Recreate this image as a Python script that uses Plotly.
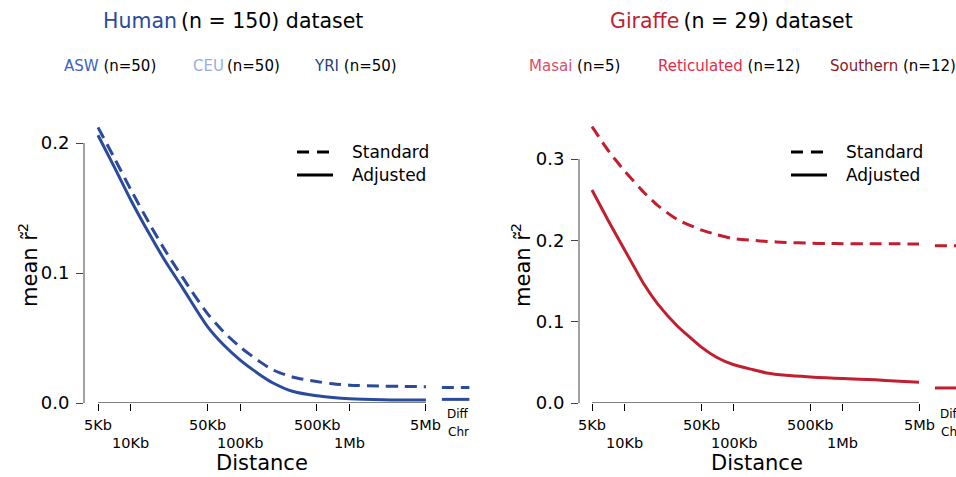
import numpy as np
import plotly.graph_objects as go

# ---------------- data ----------------
distance_bp = [5e3, 7e3, 1e4, 1.5e4, 2e4, 3e4, 5e4, 7e4, 1e5, 1.5e5, 2e5, 3e5,
               5e5, 7e5, 1e6, 2e6, 3e6, 5e6]

human_standard = [0.212, 0.189, 0.164, 0.137, 0.119, 0.096, 0.069, 0.055, 0.043,
                  0.032, 0.0254, 0.020, 0.0165, 0.0148, 0.0137, 0.0130, 0.0128, 0.0125]
human_adjusted = [0.206, 0.182, 0.156, 0.129, 0.111, 0.088, 0.059, 0.045, 0.033,
                  0.022, 0.0154, 0.009, 0.0055, 0.0042, 0.0033, 0.0025, 0.0023, 0.0023]
human_diffchr = {"Standard": 0.0120, "Adjusted": 0.0028}

giraffe_standard = [0.340, 0.311, 0.285, 0.259, 0.243, 0.226, 0.213, 0.207, 0.202,
                    0.200, 0.1988, 0.1975, 0.1965, 0.1962, 0.1960, 0.1958, 0.1958, 0.1955]
giraffe_adjusted = [0.262, 0.225, 0.188, 0.146, 0.122, 0.0954, 0.069, 0.056, 0.047,
                    0.041, 0.037, 0.034, 0.032, 0.031, 0.030, 0.0285, 0.027, 0.0254]
giraffe_diffchr = {"Standard": 0.1935, "Adjusted": 0.0185}

diffchr_span_bp = [7e6, 1.25e7]
diffchr_label_bp = 9.85e6

tick_bp = [5e3, 1e4, 5e4, 1e5, 5e5, 1e6, 5e6]
tick_text = ["5Kb", "10Kb", "50Kb", "100Kb", "500Kb", "1Mb", "5Mb"]
tick_row = [0, 1, 0, 1, 0, 1, 0]

human_yticks = [0.0, 0.1, 0.2]
giraffe_yticks = [0.0, 0.1, 0.2, 0.3]

human_groups = [("ASW", "(n=50)", "#3b63be", " "), ("CEU", "(n=50)", "#9aaedd", "\u2009"),
                ("YRI", "(n=50)", "#243f8c", " ")]
giraffe_groups = [("Masai", "(n=5)", "#d84f67", " "), ("Reticulated", "(n=12)", "#e52a49", " "),
                  ("Southern", "(n=12)", "#861b2a", " ")]

HUMAN_COL = "#2a4b9b"
GIRAFFE_COL = "#c11f30"
FONT = "DejaVu Sans"

# ---------------- layout geometry (pixels) ----------------
W, H = 956, 477
HEFF = 467.0          # effective rendered height used to place items
Y0_PX, YTOP_PX = 403, 104


def fy(px):
    return 1 - px / HEFF


ydom = [fy(Y0_PX), fy(YTOP_PX)]
plot_h_px = Y0_PX - YTOP_PX

panels = [
    dict(xa="x", ya="y", ax_px=84, right_px=480, x5k_px=98, ppd=109.3,
         ypp=1300.0, std=human_standard, adj=human_adjusted, diff=human_diffchr,
         col=HUMAN_COL, yticks=human_yticks, title_name="Human", title_rest="\u2009(n = 150) dataset",
         title_cx=233, groups=human_groups, group_x=[62, 191, 312], leg_x=297, ylab_x=28),
    dict(xa="x2", ya="y2", ax_px=579, right_px=956, x5k_px=592, ppd=109.0,
         ypp=813.0, std=giraffe_standard, adj=giraffe_adjusted, diff=giraffe_diffchr,
         col=GIRAFFE_COL, yticks=giraffe_yticks, title_name="Giraffe", title_rest="\u2009(n = 29) dataset",
         title_cx=731, groups=giraffe_groups, group_x=[527, 656, 828], leg_x=791, ylab_x=521),
]

fig = go.Figure()
annotations = []
shapes = []
logd = np.log10(distance_bp)
log5k = np.log10(5e3)

for i, p in enumerate(panels):
    sfx = "" if i == 0 else str(i + 1)
    xr = [log5k - (p["x5k_px"] - p["ax_px"]) / p["ppd"],
          log5k + (p["right_px"] - p["x5k_px"]) / p["ppd"]]
    yr = [0, plot_h_px / p["ypp"]]
    smooth = 0.8 if i == 0 else 0.5

    fig.add_trace(go.Scatter(x=logd, y=p["std"], mode="lines", xaxis=p["xa"], yaxis=p["ya"],
                             line=dict(color=p["col"], width=3, dash="12px,7px",
                                       shape="spline", smoothing=smooth),
                             showlegend=False, hoverinfo="skip"))
    fig.add_trace(go.Scatter(x=logd, y=p["adj"], mode="lines", xaxis=p["xa"], yaxis=p["ya"],
                             line=dict(color=p["col"], width=3, shape="spline", smoothing=smooth),
                             showlegend=False, hoverinfo="skip"))
    dx = np.log10(diffchr_span_bp)
    fig.add_trace(go.Scatter(x=dx, y=[p["diff"]["Standard"]] * 2, mode="lines",
                             xaxis=p["xa"], yaxis=p["ya"],
                             line=dict(color=p["col"], width=3, dash="12px,7px"),
                             showlegend=False, hoverinfo="skip"))
    fig.add_trace(go.Scatter(x=dx, y=[p["diff"]["Adjusted"]] * 2, mode="lines",
                             xaxis=p["xa"], yaxis=p["ya"],
                             line=dict(color=p["col"], width=3),
                             showlegend=False, hoverinfo="skip"))

    fig.layout["xaxis" + sfx] = dict(
        domain=[p["ax_px"] / W, p["right_px"] / W], range=xr, anchor=p["ya"],
        showline=False, showgrid=False, zeroline=False,
        tickmode="array", tickvals=list(np.log10(tick_bp)), showticklabels=False,
        ticks="outside", ticklen=7, tickwidth=1, tickcolor="#000")
    fig.layout["yaxis" + sfx] = dict(
        domain=ydom, range=yr, anchor=p["xa"],
        showline=False, showgrid=False, zeroline=False,
        tickmode="array", tickvals=p["yticks"], ticktext=[f"{v:.1f}" for v in p["yticks"]],
        ticks="outside", ticklen=7, tickwidth=1, tickcolor="#444", ticklabelstandoff=3,
        tickfont=dict(family=FONT, size=18, color="#000"))

    # axis lines spanning first..last tick (R style)
    shapes.append(dict(type="line", xref=p["xa"], yref=p["ya"],
                       x0=np.log10(tick_bp[0]), x1=np.log10(tick_bp[-1]), y0=0, y1=0,
                       line=dict(color="#000", width=1)))
    shapes.append(dict(type="line", xref=p["xa"] + " domain", yref=p["ya"],
                       x0=0, x1=0, y0=p["yticks"][0], y1=p["yticks"][-1],
                       line=dict(color="#444", width=1)))

    # x tick labels in two rows
    for tb, tt, row in zip(tick_bp, tick_text, tick_row):
        annotations.append(dict(x=np.log10(tb), xref=p["xa"], y=fy(425 if row == 0 else 443),
                                yref="paper", text=tt, showarrow=False, xanchor="center",
                                yanchor="middle", font=dict(family=FONT, size=14.5, color="#000")))
    for lab, yy in (("Diff", 414), ("Chr", 432)):
        annotations.append(dict(x=np.log10(diffchr_label_bp), xref=p["xa"], y=fy(yy), yref="paper",
                                text=lab, showarrow=False, xanchor="center", yanchor="middle",
                                font=dict(family=FONT, size=12, color="#000")))
    # x axis title
    annotations.append(dict(x=(p["ax_px"] + 14 + 164) / W, xref="paper", y=fy(463), yref="paper",
                            text="Distance", showarrow=False, xanchor="center", yanchor="middle",
                            font=dict(family=FONT, size=21, color="#000")))
    # y axis title
    annotations.append(dict(x=p["ylab_x"] / W, xref="paper", y=fy(265), yref="paper",
                            text="mean r\u0303<sup>2</sup>", showarrow=False, textangle=-90,
                            xanchor="center", yanchor="middle",
                            font=dict(family=FONT, size=21, color="#000")))
    # main title
    annotations.append(dict(x=p["title_cx"] / W, xref="paper", y=fy(21), yref="paper",
                            text=f"<span style='color:{p['col']}'>{p['title_name']}</span>{p['title_rest']}",
                            showarrow=False, xanchor="center", yanchor="middle",
                            font=dict(family=FONT, size=20.5, color="#000")))
    # group subtitles
    for (g, n, c, sp), gx in zip(p["groups"], p["group_x"]):
        annotations.append(dict(x=gx / W, xref="paper", y=fy(66), yref="paper",
                                text=f"<span style='color:{c}'>{g}</span>{sp}{n}",
                                showarrow=False, xanchor="left", yanchor="middle",
                                font=dict(family=FONT, size=15, color="#000")))
    # legend (Standard / Adjusted)
    for lab, yy, dash in (("Standard", 152, "12px,8px"), ("Adjusted", 175, "solid")):
        shapes.append(dict(type="line", xref="paper", yref="paper",
                           x0=p["leg_x"] / W, x1=(p["leg_x"] + 36) / W, y0=fy(yy), y1=fy(yy),
                           line=dict(color="#000", width=3, dash=dash)))
        annotations.append(dict(x=(p["leg_x"] + 53) / W, xref="paper", y=fy(yy), yref="paper",
                                text=lab, showarrow=False, xanchor="left", yanchor="middle",
                                font=dict(family=FONT, size=17, color="#000")))

fig.update_layout(width=W, height=H, autosize=False, margin=dict(l=0, r=0, t=0, b=0),
                  paper_bgcolor="white", plot_bgcolor="white",
                  annotations=annotations, shapes=shapes, showlegend=False)

fig.write_html("out.html", config={"displayModeBar": False},
               post_script="document.body.style.margin='0';"
                           "document.body.style.overflow='hidden';")
